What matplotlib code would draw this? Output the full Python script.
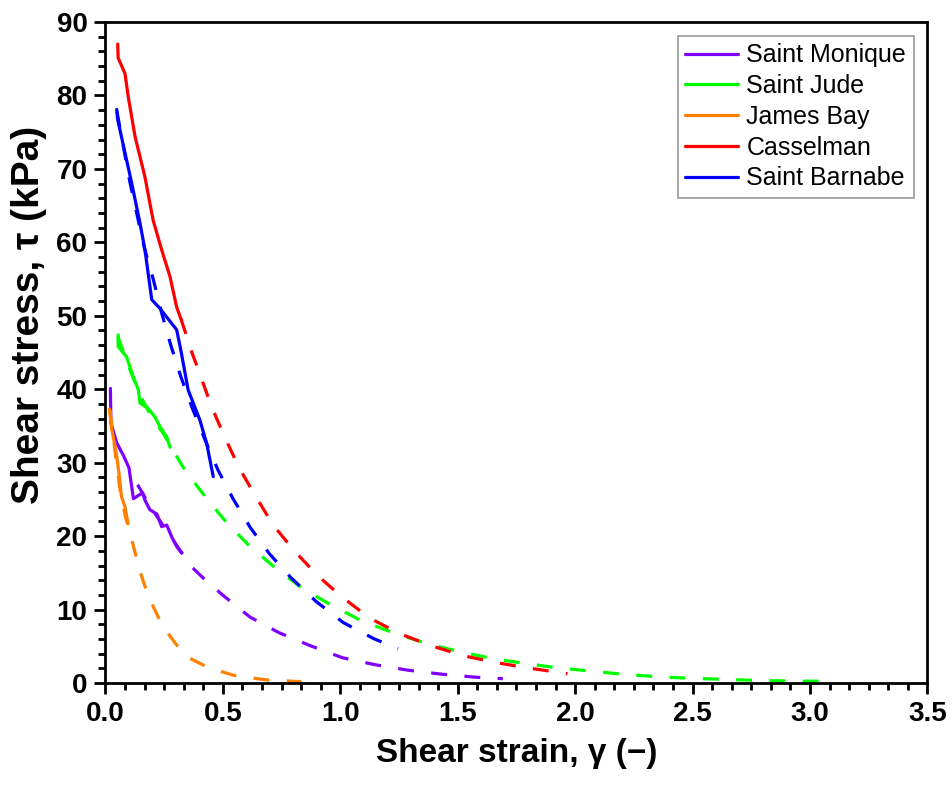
import matplotlib
matplotlib.use("Agg")
import matplotlib.pyplot as plt
from matplotlib.ticker import MultipleLocator, AutoMinorLocator, FormatStrFormatter

plt.rcParams['font.family'] = ['Liberation Sans', 'DejaVu Sans']
plt.rcParams['lines.scale_dashes'] = False

names = ["Saint Monique", "Saint Jude", "James Bay", "Casselman", "Saint Barnabe"]
colors = ["#8000FF", "#00FF00", "#FF8000", "#FF0000", "#0000FF"]

# measured curves (shear strain, shear stress in kPa)
monique_x = [0.021, 0.023, 0.048, 0.076, 0.100, 0.119, 0.158, 0.168, 0.189, 0.219, 0.239, 0.261, 0.282, 0.303, 0.324]
monique_y = [40.1, 35.4, 32.7, 31.0, 29.3, 25.1, 25.9, 24.9, 23.6, 23.0, 21.3, 21.5, 19.9, 18.6, 17.7]
jude_x = [0.054, 0.054, 0.090, 0.118, 0.140, 0.147, 0.182, 0.211, 0.232, 0.261, 0.275]
jude_y = [47.4, 45.8, 44.4, 41.7, 39.9, 38.1, 37.4, 36.2, 34.9, 33.5, 32.1]
james_x = [0.017, 0.026, 0.038, 0.049, 0.060, 0.068, 0.083, 0.096]
james_y = [37.3, 34.7, 32.7, 30.6, 27.9, 25.4, 24.0, 21.7]
cassel_x = [0.052, 0.054, 0.083, 0.097, 0.126, 0.168, 0.203, 0.239, 0.275, 0.303, 0.321]
cassel_y = [87.0, 85.1, 83.0, 79.8, 74.4, 68.9, 63.0, 59.0, 55.3, 51.2, 49.6]
barn_x = [0.048, 0.052, 0.090, 0.112, 0.147, 0.168, 0.197, 0.232, 0.303, 0.321, 0.352, 0.402, 0.431, 0.459]
barn_y = [78.1, 76.7, 71.2, 68.0, 62.6, 59.0, 52.2, 51.0, 48.1, 45.3, 39.9, 35.8, 32.6, 28.1]

# fitted curves
monique_fx = [0.137, 0.189, 0.253, 0.317, 0.367, 0.416, 0.498, 0.615, 0.739, 0.873, 1.008, 1.148, 1.289, 1.432, 1.576, 1.692]
monique_fy = [27.0, 24.1, 21.1, 18.1, 15.8, 14.3, 12.0, 8.99, 6.85, 5.07, 3.45, 2.49, 1.74, 1.20, 0.79, 0.59]
jude_fx = [0.053, 0.096, 0.147, 0.198, 0.246, 0.282, 0.338, 0.424, 0.514, 0.612, 0.722, 0.842, 0.968, 1.090,
           1.226, 1.364, 1.502, 1.645, 1.787, 1.931, 2.071, 2.215, 2.358, 2.503, 2.645, 2.788, 2.932, 3.111]
jude_fy = [47.2, 43.3, 39.2, 36.1, 34.0, 32.0, 29.0, 25.4, 21.9, 18.7, 15.7, 12.8, 10.5, 8.48,
           6.84, 5.41, 4.30, 3.35, 2.66, 2.04, 1.61, 1.16, 0.84, 0.63, 0.49, 0.34, 0.27, 0.23]
james_fx = [0.019, 0.040, 0.062, 0.083, 0.112, 0.129, 0.150, 0.171, 0.197, 0.225, 0.261, 0.303, 0.360, 0.416,
            0.495, 0.551, 0.633, 0.693, 0.771, 0.835]
james_fy = [37.2, 31.7, 26.3, 22.9, 19.5, 17.4, 14.9, 12.9, 10.85, 8.95, 6.98, 5.17, 3.36, 2.45,
            1.54, 1.00, 0.64, 0.40, 0.28, 0.18]
cassel_fx = [0.321, 0.346, 0.367, 0.406, 0.452, 0.509, 0.569, 0.640, 0.714, 0.804, 0.901, 1.000, 1.124,
             1.254, 1.388, 1.529, 1.668, 1.810, 1.967]
cassel_fy = [49.6, 47.2, 45.1, 41.7, 37.6, 33.4, 29.3, 25.4, 21.5, 18.0, 14.7, 11.9, 8.85,
             6.71, 5.06, 3.68, 2.75, 2.00, 1.27]
barn_fx = [0.049, 0.104, 0.165, 0.204, 0.239, 0.278, 0.321, 0.370, 0.424, 0.479, 0.543, 0.616, 0.698,
           0.791, 0.897, 1.012, 1.143, 1.246]
barn_fy = [77.8, 68.2, 59.3, 54.9, 50.4, 46.0, 41.7, 37.4, 33.1, 29.0, 25.1, 21.2, 17.6,
           14.3, 11.1, 8.24, 6.03, 4.67]

measured = [(monique_x, monique_y), (jude_x, jude_y), (james_x, james_y), (cassel_x, cassel_y), (barn_x, barn_y)]
fitted = [(monique_fx, monique_fy), (jude_fx, jude_fy), (james_fx, james_fy), (cassel_fx, cassel_fy), (barn_fx, barn_fy)]

fig = plt.figure(figsize=(9.52, 7.98), dpi=100)
ax = fig.add_axes([0.1108, 0.1441, 0.8634, 0.8283])

lw = 2.3
for (x, y), c, n in zip(measured, colors, names):
    ax.plot(x, y, color=c, lw=lw, label=n, solid_joinstyle='round', solid_capstyle='round')
for (x, y), c in zip(fitted, colors):
    ax.plot(x, y, color=c, lw=lw, linestyle=(0, (11.5, 12.5)), dash_capstyle='butt')

ax.set_xlim(0, 3.5)
ax.set_ylim(0, 90)
ax.xaxis.set_major_locator(MultipleLocator(0.5))
ax.xaxis.set_minor_locator(AutoMinorLocator(6))
ax.yaxis.set_major_locator(MultipleLocator(10))
ax.yaxis.set_minor_locator(AutoMinorLocator(5))
ax.xaxis.set_major_formatter(FormatStrFormatter('%.1f'))

for s in ax.spines.values():
    s.set_linewidth(2.0)
ax.tick_params(which='major', direction='out', length=8, width=2, labelsize=20,
               top=False, right=False, pad=5)
ax.tick_params(which='minor', direction='out', length=5, width=2, top=False, right=False)
for lab in ax.get_xticklabels() + ax.get_yticklabels():
    lab.set_fontweight('bold')

ax.set_xlabel("Shear strain, \u03b3 (\u2212)", fontsize=24, fontweight='bold', labelpad=8)
ax.set_ylabel("Shear stress, \u03c4 (kPa)", fontsize=28, fontweight='bold')
ax.yaxis.set_label_coords(-0.071, 0.557)

leg = ax.legend(loc='upper right', fontsize=18, frameon=True, fancybox=False,
                edgecolor='#808080', handlelength=2.1, handletextpad=0.35,
                labelspacing=0.27, borderpad=0.3, borderaxespad=0.55)
leg.get_frame().set_linewidth(1.2)

fig.savefig("out.png", dpi=100)
